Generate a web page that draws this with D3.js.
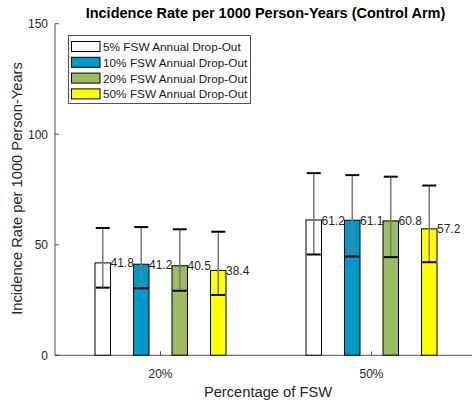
<!DOCTYPE html>
<html>
<head>
<meta charset="utf-8">
<script src="https://cdn.jsdelivr.net/npm/d3@7"></script>
<style>
  body { margin: 0; background: #fff; }
  svg { font-family: "Liberation Sans", Arial, sans-serif; }
</style>
</head>
<body>
<svg id="chart" width="472" height="404"></svg>
<script>
// categories and series
const categories = ['20%', '50%'];
const seriesNames = [
  '5% FSW Annual Drop-Out',
  '10% FSW Annual Drop-Out',
  '20% FSW Annual Drop-Out',
  '50% FSW Annual Drop-Out'
];
const seriesColors = ['#ffffff', '#0099cc', '#9dbb61', '#ffff00'];
// values[series][category]
const values = [
  [41.8, 61.2],
  [41.2, 61.1],
  [40.5, 60.8],
  [38.4, 57.2]
];
const upperErr = [
  [57.6, 82.4],
  [58.0, 81.5],
  [57.0, 80.8],
  [55.9, 76.8]
];
const lowerErr = [
  [30.6, 45.6],
  [30.3, 44.7],
  [29.2, 44.4],
  [27.3, 42.1]
];
const yTicks = [0, 50, 100, 150];

const svg = d3.select('#chart');
const axisColor = '#262626';

const x = d3.scaleLinear().domain([0.5, 2.5]).range([55, 477]);
const y = d3.scaleLinear().domain([0, 150]).range([355.3, 23.7]);

const barW = 15.5;
const step = 38.5;
const offset = i => (i - 1.5) * step;

// bars, error bars, labels
seriesNames.forEach((name, s) => {
  const g = svg.append('g');
  categories.forEach((cat, c) => {
    const cx = x(c + 1) + offset(s);
    g.append('rect')
      .attr('x', cx - barW / 2).attr('y', y(values[s][c]))
      .attr('width', barW).attr('height', y(0) - y(values[s][c]))
      .attr('fill', seriesColors[s]).attr('stroke', '#000').attr('stroke-width', 1);
    g.append('line')
      .attr('x1', cx).attr('x2', cx)
      .attr('y1', y(upperErr[s][c])).attr('y2', y(lowerErr[s][c]))
      .attr('stroke', '#7a7a7a').attr('stroke-width', 1.5);
    [upperErr[s][c], lowerErr[s][c]].forEach(v => {
      g.append('line')
        .attr('x1', cx - 7).attr('x2', cx + 7)
        .attr('y1', y(v)).attr('y2', y(v))
        .attr('stroke', '#000').attr('stroke-width', 2);
    });
    g.append('text')
      .attr('x', cx + barW / 2).attr('y', y(values[s][c]) + 4.5)
      .attr('font-size', 12).attr('fill', '#262626')
      .text(values[s][c].toFixed(1));
  });
});

// y axis
svg.append('line').attr('x1', 55).attr('x2', 55).attr('y1', y(150)).attr('y2', y(0))
  .attr('stroke', axisColor).attr('stroke-width', 0.8);
yTicks.forEach(t => {
  svg.append('line').attr('x1', 55).attr('x2', 59).attr('y1', y(t)).attr('y2', y(t))
    .attr('stroke', axisColor).attr('stroke-width', 0.8);
  svg.append('text').attr('x', 48).attr('y', y(t) + 4.5).attr('text-anchor', 'end')
    .attr('font-size', 12).attr('fill', axisColor).text(t);
});

// x axis
svg.append('line').attr('x1', 55).attr('x2', 477).attr('y1', y(0)).attr('y2', y(0))
  .attr('stroke', axisColor).attr('stroke-width', 0.8);
categories.forEach((cat, c) => {
  svg.append('line').attr('x1', x(c + 1)).attr('x2', x(c + 1)).attr('y1', y(0)).attr('y2', y(0) - 4)
    .attr('stroke', axisColor).attr('stroke-width', 0.8);
  svg.append('text').attr('x', x(c + 1)).attr('y', 377.5).attr('text-anchor', 'middle')
    .attr('font-size', 12).attr('fill', axisColor).text(cat);
});

// titles
svg.append('text').attr('x', 265.5).attr('y', 18).attr('text-anchor', 'middle')
  .attr('font-size', 14.5).attr('font-weight', 'bold').attr('fill', '#000')
  .text('Incidence Rate per 1000 Person-Years (Control Arm)');
svg.append('text').attr('x', 268).attr('y', 397).attr('text-anchor', 'middle')
  .attr('font-size', 14.7).attr('fill', axisColor).text('Percentage of FSW');
svg.append('text').attr('transform', 'translate(22,188.5) rotate(-90)').attr('text-anchor', 'middle')
  .attr('font-size', 14.7).attr('fill', axisColor).text('Incidence Rate per 1000 Person-Years');

// legend
const legend = svg.append('g');
legend.append('rect').attr('x', 68.5).attr('y', 35.5).attr('width', 182).attr('height', 68)
  .attr('fill', '#fff').attr('stroke', axisColor).attr('stroke-width', 0.8);
seriesNames.forEach((name, s) => {
  const cy = 46.5 + s * 15.8;
  legend.append('rect').attr('x', 71.5).attr('y', cy - 5).attr('width', 28.5).attr('height', 10)
    .attr('fill', seriesColors[s]).attr('stroke', '#000').attr('stroke-width', 1);
  legend.append('text').attr('x', 103).attr('y', cy + 4.5)
    .attr('font-size', 11.8).attr('fill', '#1a1a1a').text(name);
});
</script>
</body>
</html>
